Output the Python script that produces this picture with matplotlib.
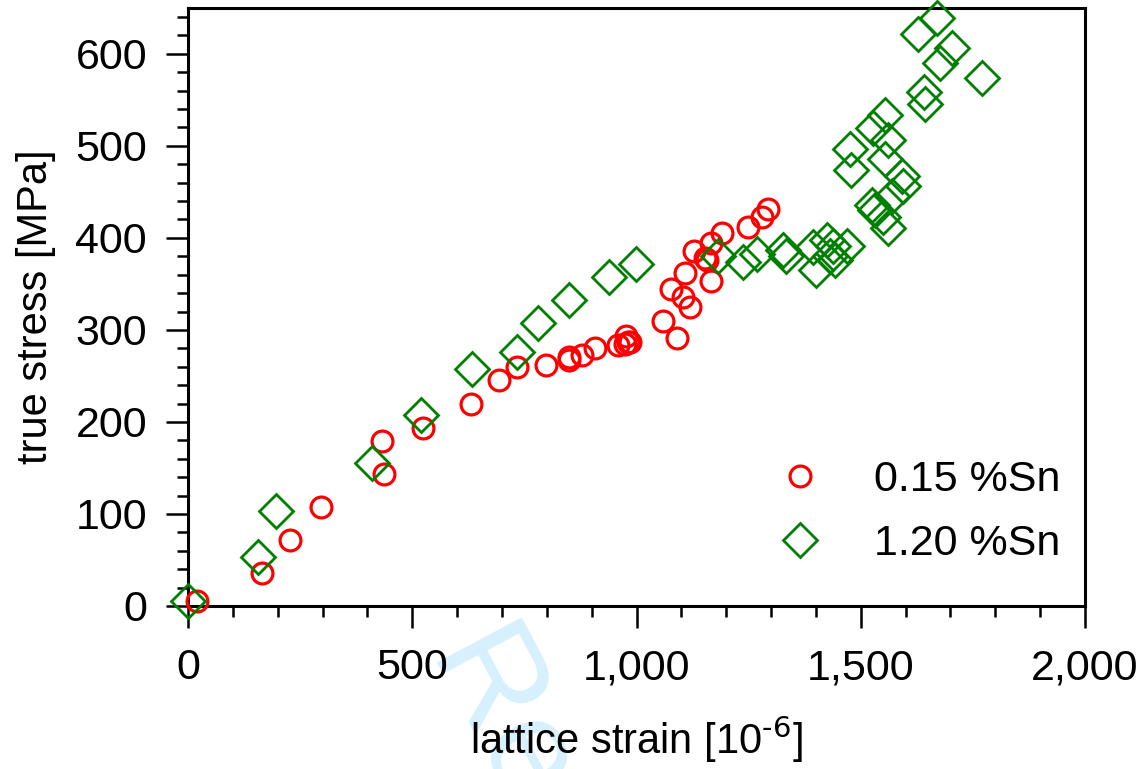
"""
lattice strain vs true stress for two Sn contents
"""
import matplotlib
matplotlib.use('Agg')
import matplotlib.pyplot as plt
from matplotlib.ticker import MultipleLocator, FuncFormatter

plt.rcParams['font.family'] = ['Liberation Sans', 'DejaVu Sans']
plt.rcParams['axes.unicode_minus'] = False

# 0.15 %Sn
strain_lo = [19, 164, 228, 296, 432, 438, 523, 632, 693, 733, 799, 850, 850,
             879, 908, 959, 974, 976, 982, 986, 1060, 1077, 1091, 1104, 1108,
             1119, 1129, 1153, 1158, 1165, 1167, 1190, 1249, 1279, 1294]
stress_lo = [5, 36, 72, 108, 179, 143, 193, 219, 246, 260, 262, 267, 271,
             273, 280, 284, 285, 293, 287, 287, 310, 345, 291, 336, 362,
             325, 386, 378, 376, 394, 353, 405, 412, 423, 431]

# 1.20 %Sn
strain_hi = [1, 155, 197, 411, 520, 634, 733, 780, 850, 938, 998, 1182, 1238,
             1268, 1327, 1334, 1394, 1401, 1424, 1431, 1439, 1443, 1469, 1524,
             1532, 1550, 1561, 1569, 1591, 1595, 1476, 1479, 1554, 1528, 1554,
             1561, 1640, 1643, 1770, 1677, 1703, 1628, 1669]
stress_hi = [5, 53, 103, 155, 207, 258, 276, 307, 333, 358, 372, 380, 374,
             383, 387, 380, 390, 365, 398, 380, 391, 376, 391, 436,
             430, 423, 411, 445, 467, 456, 497, 474, 486, 519, 534,
             506, 559, 545, 574, 590, 606, 622, 639]

fig = plt.figure(figsize=(11.45, 7.69), dpi=100)
ax = fig.add_axes([0.1642, 0.212, 0.7834, 0.7778])

# faint watermark behind everything
fig.text(0.435, 0.06, 'Re', rotation=-62, fontsize=100, color='#d6f0fd',
         ha='center', va='center', zorder=-1)

ax.plot(strain_lo, stress_lo, 'o', ms=15, mfc='none', mec='#ff0000', mew=2.3,
        label='0.15 %Sn', clip_on=False, zorder=3)
ax.plot(strain_hi, stress_hi, 'D', ms=17, mfc='none', mec='#008000', mew=2,
        label='1.20 %Sn', clip_on=False, zorder=3)

ax.set_xlim(0, 2000)
ax.set_ylim(0, 650)
ax.xaxis.set_major_locator(MultipleLocator(500))
ax.xaxis.set_minor_locator(MultipleLocator(100))
ax.yaxis.set_major_locator(MultipleLocator(100))
ax.yaxis.set_minor_locator(MultipleLocator(20))
ax.xaxis.set_major_formatter(FuncFormatter(lambda v, p: '{:,.0f}'.format(v)))

for sp in ax.spines.values():
    sp.set_linewidth(2.2)
ax.tick_params(which='major', direction='out', length=15.5, width=1.8,
               labelsize=31, pad=14, top=False, right=False)
ax.tick_params(which='minor', direction='out', length=8, width=1.8,
               top=False, right=False)
ax.tick_params(axis='x', which='major', pad=15)

ax.set_xlabel('lattice strain [10$^{\\text{-6}}$]', fontsize=30, labelpad=18)
ax.set_ylabel('true stress [MPa]', fontsize=30, labelpad=14)

ax.legend(loc='lower right', bbox_to_anchor=(0.972, 0.07), frameon=False,
          fontsize=31, handletextpad=0.7, labelspacing=0.55, numpoints=1,
          borderpad=0, borderaxespad=0)

plt.savefig('out.png', dpi=100)
